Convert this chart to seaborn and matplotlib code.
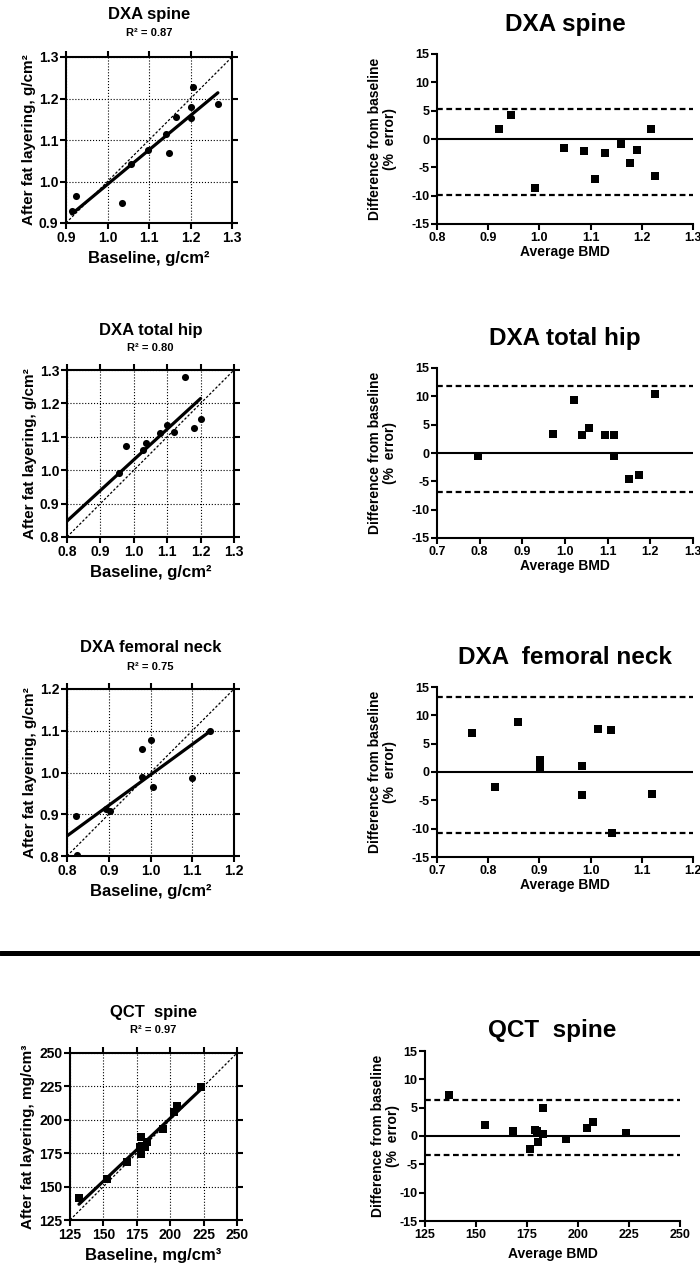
import numpy as np
import pandas as pd
import seaborn as sns
import matplotlib.pyplot as plt
from matplotlib.lines import Line2D

# DXA spine
spine_base = [0.914, 0.924, 1.035, 1.057, 1.098, 1.147, 1.142, 1.164, 1.202, 1.202, 1.207, 1.266]
spine_after = [0.930, 0.964, 0.949, 1.041, 1.076, 1.069, 1.114, 1.156, 1.152, 1.180, 1.227, 1.186]
spine_avg = [0.922, 0.944, 0.992, 1.049, 1.087, 1.108, 1.128, 1.160, 1.177, 1.191, 1.217, 1.226]
spine_diff = [1.8, 4.2, -8.6, -1.5, -2.1, -7.1, -2.4, -0.8, -4.2, -1.9, 1.7, -6.5]
spine_loa = [5.3, -9.8]

# DXA total hip
hip_base = [0.798, 0.957, 0.976, 1.027, 1.036, 1.078, 1.099, 1.120, 1.153, 1.180, 1.200]
hip_after = [0.794, 0.991, 1.071, 1.059, 1.082, 1.111, 1.135, 1.114, 1.279, 1.127, 1.153]
hip_avg = [0.796, 0.973, 1.022, 1.041, 1.057, 1.093, 1.115, 1.115, 1.151, 1.174, 1.211]
hip_diff = [-0.5, 3.3, 9.4, 3.1, 4.4, 3.2, 3.2, -0.6, -4.6, -3.9, 10.5]
hip_loa = [11.8, -6.8]

# DXA femoral neck
neck_base = [0.744, 0.825, 0.821, 0.894, 0.902, 0.980, 1.006, 0.979, 1.002, 1.100, 1.142]
neck_after = [0.796, 0.803, 0.897, 0.913, 0.908, 0.990, 0.966, 1.057, 1.079, 0.986, 1.100]
neck_avg = [0.769, 0.813, 0.858, 0.901, 0.902, 0.983, 0.984, 1.015, 1.039, 1.042, 1.119]
neck_diff = [6.8, -2.7, 8.9, 2.1, 0.8, 1.1, -4.0, 7.6, 7.5, -10.8, -3.8]
neck_loa = [13.3, -10.8]

# QCT spine
qct_base = [131.7, 153.0, 167.4, 177.7, 179.1, 178.5, 181.5, 182.5, 178.1, 194.4, 203.1, 205.0, 223.1]
qct_after = [141.2, 156.0, 168.6, 179.7, 180.5, 174.6, 179.7, 183.1, 187.2, 193.4, 205.9, 210.0, 224.5]
qct_avg = [136.6, 154.5, 168.0, 176.5, 178.7, 179.8, 180.6, 182.6, 182.8, 193.9, 204.5, 207.5, 223.7]
qct_diff = [7.2, 2.0, 0.8, -2.3, 1.1, 0.8, -1.0, 5.0, 0.4, -0.5, 1.4, 2.4, 0.5]
qct_loa = [6.3, -3.4]

r2_values = ["0.87", "0.80", "0.75", "0.97"]
scatter_titles = ["DXA spine", "DXA total hip", "DXA femoral neck", "QCT  spine"]
ba_titles = ["DXA spine", "DXA total hip", "DXA  femoral neck", "QCT  spine"]

sns.set_style("ticks")
plt.rcParams['font.family'] = ['Liberation Sans', 'DejaVu Sans']
plt.rcParams['font.weight'] = 'bold'
plt.rcParams['axes.labelweight'] = 'bold'
plt.rcParams['axes.linewidth'] = 1.5
plt.rcParams['axes.edgecolor'] = 'black'
plt.rcParams['axes.labelcolor'] = 'black'
plt.rcParams['text.color'] = 'black'
plt.rcParams['xtick.color'] = 'black'
plt.rcParams['ytick.color'] = 'black'
plt.rcParams['axes.unicode_minus'] = False

W, H = 700, 1266
fig = plt.figure(figsize=(W / 100, H / 100), dpi=100)


def px_axes(x0, y0, x1, y1):
    return fig.add_axes([x0 / W, (H - y1) / H, (x1 - x0) / W, (y1 - y0) / H])


def fmt(v, dec):
    return f"{v:.{dec}f}"


def scatter_panel(box, base, after, ticks, dec, unit, marker, title, r2, toff, ylab_off):
    ax = px_axes(*box)
    hpx = box[3] - box[1]
    ax.axline((0, 0), slope=1, color='black', lw=0.9, ls=(0, (2, 1.5)), zorder=2)
    sns.regplot(x=base, y=after, ax=ax, scatter=False, ci=None, truncate=True,
                line_kws=dict(color='black', lw=2.3, zorder=3))
    sns.scatterplot(x=base, y=after, ax=ax, color='black', marker=marker, s=26,
                    linewidth=0, zorder=4)
    ax.set_xlim(ticks[0], ticks[-1])
    ax.set_ylim(ticks[0], ticks[-1])
    ax.set_xticks(ticks)
    ax.set_yticks(ticks)
    ax.set_xticklabels([fmt(t, dec) for t in ticks])
    ax.set_yticklabels([fmt(t, dec) for t in ticks])
    ax.grid(True, ls=':', lw=0.8, color='black')
    ax.tick_params(direction='out', length=4, width=1.5, top=True, right=True,
                   labelsize=10, pad=1.5)
    for sp in ax.spines.values():
        sp.set_linewidth(1.5)
    ax.set_xlabel(f"Baseline, {unit}", fontsize=12)
    ax.set_ylabel(f"After fat layering, {unit}", fontsize=11)
    ax.xaxis.set_label_coords(0.5, -28 / hpx)
    ax.yaxis.set_label_coords(-ylab_off / hpx, 0.5)
    ax.text(0.5, 1 + toff[0] / hpx, title, transform=ax.transAxes, ha='center',
            va='center', fontsize=12, fontweight='bold')
    ax.text(0.5, 1 + toff[1] / hpx, f"R² = {r2}", transform=ax.transAxes, ha='center',
            va='center', fontsize=8, fontweight='bold')
    return ax


def ba_panel(box, avg, diff, loa, xticks, dec, title, toff, ylab_off, xlab_off):
    ax = px_axes(*box)
    hpx = box[3] - box[1]
    wpx = box[2] - box[0]
    ax.axhline(0, color='black', lw=1.5, zorder=2)
    for v in loa:
        ax.axhline(v, color='black', lw=1.6, ls=(0, (2.6, 1.6)), zorder=2)
    sns.scatterplot(x=avg, y=diff, ax=ax, color='black', marker='s', s=26,
                    linewidth=0, zorder=4)
    ax.set_xlim(xticks[0], xticks[-1])
    ax.set_ylim(-15, 15)
    ax.set_xticks(xticks)
    ax.set_xticklabels([fmt(t, dec) for t in xticks])
    ax.set_yticks(np.arange(-15, 16, 5))
    sns.despine(ax=ax)
    ax.tick_params(direction='out', length=4, width=1.5, labelsize=9, pad=1.5)
    for sp in ax.spines.values():
        sp.set_linewidth(1.5)
    ax.set_xlabel("Average BMD", fontsize=10)
    ax.set_ylabel("Difference from baseline\n(%  error)", fontsize=10, linespacing=1.1)
    ax.xaxis.set_label_coords(0.5, -xlab_off / hpx)
    ax.yaxis.set_label_coords(-ylab_off / wpx, 0.5)
    ax.text(0.5, 1 + toff / hpx, title, transform=ax.transAxes, ha='center',
            va='center', fontsize=17.5, fontweight='bold')
    return ax


scatter_panel((66, 57, 232, 223), spine_base, spine_after, np.round(np.arange(0.9, 1.31, 0.1), 1),
              1, "g/cm²", 'o', scatter_titles[0], r2_values[0], (42, 24), 30)
ba_panel((437, 54, 693, 224), spine_avg, spine_diff, spine_loa,
         np.round(np.arange(0.8, 1.31, 0.1), 1), 1, ba_titles[0], 29, 40, 21)

scatter_panel((67, 370, 234, 537), hip_base, hip_after, np.round(np.arange(0.8, 1.31, 0.1), 1),
              1, "g/cm²", 'o', scatter_titles[1], r2_values[1], (40, 22), 30)
ba_panel((437, 368, 693, 538), hip_avg, hip_diff, hip_loa,
         np.round(np.arange(0.7, 1.31, 0.1), 1), 1, ba_titles[1], 30, 40, 21)

scatter_panel((67, 689, 234, 856), neck_base, neck_after, np.round(np.arange(0.8, 1.21, 0.1), 1),
              1, "g/cm²", 'o', scatter_titles[2], r2_values[2], (41, 22), 30)
ba_panel((437, 687, 693, 857), neck_avg, neck_diff, neck_loa,
         np.round(np.arange(0.7, 1.21, 0.1), 1), 1, ba_titles[2], 30, 40, 21)

scatter_panel((70, 1053, 237, 1220), qct_base, qct_after, np.arange(125, 251, 25),
              0, "mg/cm³", 's', scatter_titles[3], r2_values[3], (40, 23), 35)
ba_panel((425, 1051, 680, 1221), qct_avg, qct_diff, qct_loa,
         np.arange(125, 251, 25), 0, ba_titles[3], 21, 25, 26)

# thick divider between DXA and QCT
fig.add_artist(Line2D([0, 1], [(H - 953) / H] * 2, transform=fig.transFigure,
                      color='black', lw=3.6))

fig.savefig("out.png", dpi=100)
